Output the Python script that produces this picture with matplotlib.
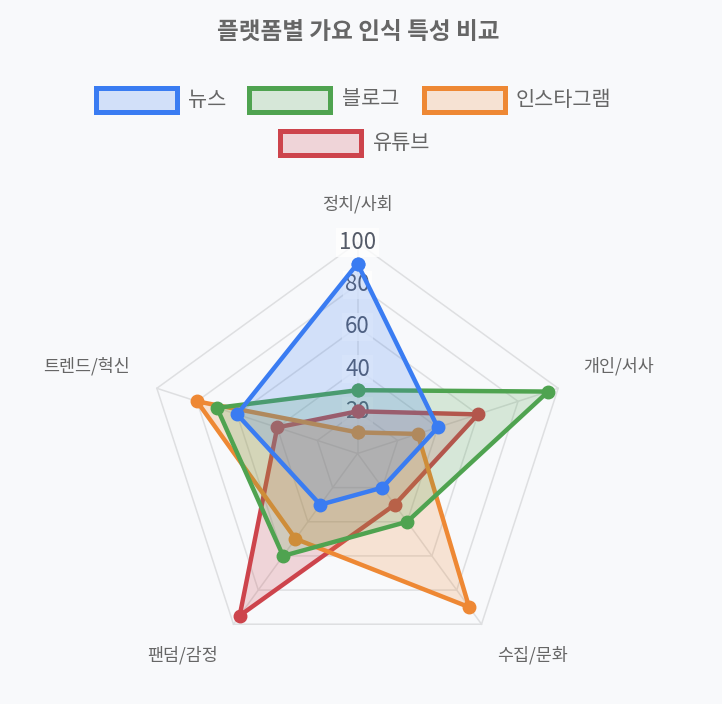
import numpy as np
import matplotlib
matplotlib.use('Agg')
import matplotlib.pyplot as plt
from matplotlib.patches import Rectangle

plt.rcParams['font.family'] = ['Noto Sans CJK KR', 'DejaVu Sans']

# 데이터
categories = ['정치/사회', '개인/서사', '수집/문화', '팬덤/감정', '트렌드/혁신']
series_names = ['뉴스', '블로그', '인스타그램', '유튜브']
news = [90, 40, 20, 30, 60]
blog = [30, 95, 40, 60, 70]
insta = [10, 30, 90, 50, 80]
youtube = [20, 60, 30, 95, 40]
ticks = [20, 40, 60, 80, 100]

colors = ['#3a7cf2', '#4fa350', '#ee8834', '#cd444c']
values = [news, blog, insta, youtube]

W, H = 722, 704
bg = '#f8f9fb'
fig = plt.figure(figsize=(W / 100, H / 100), dpi=100, facecolor=bg)

# 레이더 영역 (중심 357.5, 453.5 / 반지름 211 px)
cx, cy, R = 357.5, 453.5, 211
ax = fig.add_axes([(cx - R) / W, (H - cy - R) / H, 2 * R / W, 2 * R / H], polar=True)
ax.set_facecolor(bg)
ax.set_theta_offset(np.pi / 2)
ax.set_theta_direction(-1)
ax.set_ylim(0, 100)
ax.spines['polar'].set_visible(False)
ax.grid(False)
ax.set_xticks([])
ax.set_yticks([])

angles = np.linspace(0, 2 * np.pi, len(categories), endpoint=False)
closed = np.append(angles, angles[0])

grid_c = '#dedfe1'
for t in ticks:
    ax.plot(closed, [t] * len(closed), color=grid_c, lw=1.1, zorder=1, clip_on=False)
for a in angles:
    ax.plot([a, a], [0, 100], color=grid_c, lw=1.1, zorder=1, clip_on=False)

for t in ticks:
    ax.text(0, t, str(t), ha='center', va='center', fontsize=16, color='#555b68', zorder=2,
            bbox=dict(boxstyle='square,pad=0.12', fc='white', ec='none', alpha=0.75))

# 데이터셋 (첫 번째가 맨 위)
for i in reversed(range(len(values))):
    v = np.append(values[i], values[i][0])
    z = 10 + (len(values) - i) * 2
    ax.fill(closed, v, color=colors[i], alpha=0.2, lw=0, zorder=z)
    ax.plot(closed, v, color=colors[i], lw=3.2, zorder=z + 1, clip_on=False,
            marker='o', markersize=9, markerfacecolor=colors[i], markeredgecolor=colors[i])

# 축 라벨
label_offsets = [(0, 38), (25, 22), (16, -31), (-16, -31), (-27, 22)]
label_ha = ['center', 'left', 'left', 'right', 'right']
for a, name, off, ha in zip(angles, categories, label_offsets, label_ha):
    ax.annotate(name, xy=(a, 100), xytext=off, textcoords='offset pixels',
                ha=ha, va='center', fontsize=12.5, color='#666666', annotation_clip=False)

# 제목
fig.text(358 / W, 1 - 32 / H, '플랫폼별 가요 인식 특성 비교', ha='center', va='center',
         fontsize=17, fontweight='bold', color='#666666')

# 범례
legend_pos = [(93, 99.5), (246.7, 99.5), (421, 99.5), (277.7, 143.3)]
bw, bh, blw = 86, 29, 5
for (x0, yc), name, c in zip(legend_pos, series_names, colors):
    rect = Rectangle(((x0 + blw / 2) / W, 1 - (yc + bh / 2 - blw / 2) / H),
                     (bw - blw) / W, (bh - blw) / H, transform=fig.transFigure,
                     facecolor=matplotlib.colors.to_rgba(c, 0.2), edgecolor=c,
                     linewidth=blw * 0.72)
    fig.add_artist(rect)
    fig.text((x0 + bw + 9) / W, 1 - yc / H, name, ha='left', va='center',
             fontsize=15, color='#666666')

fig.savefig('out.png', dpi=100, facecolor=bg)
